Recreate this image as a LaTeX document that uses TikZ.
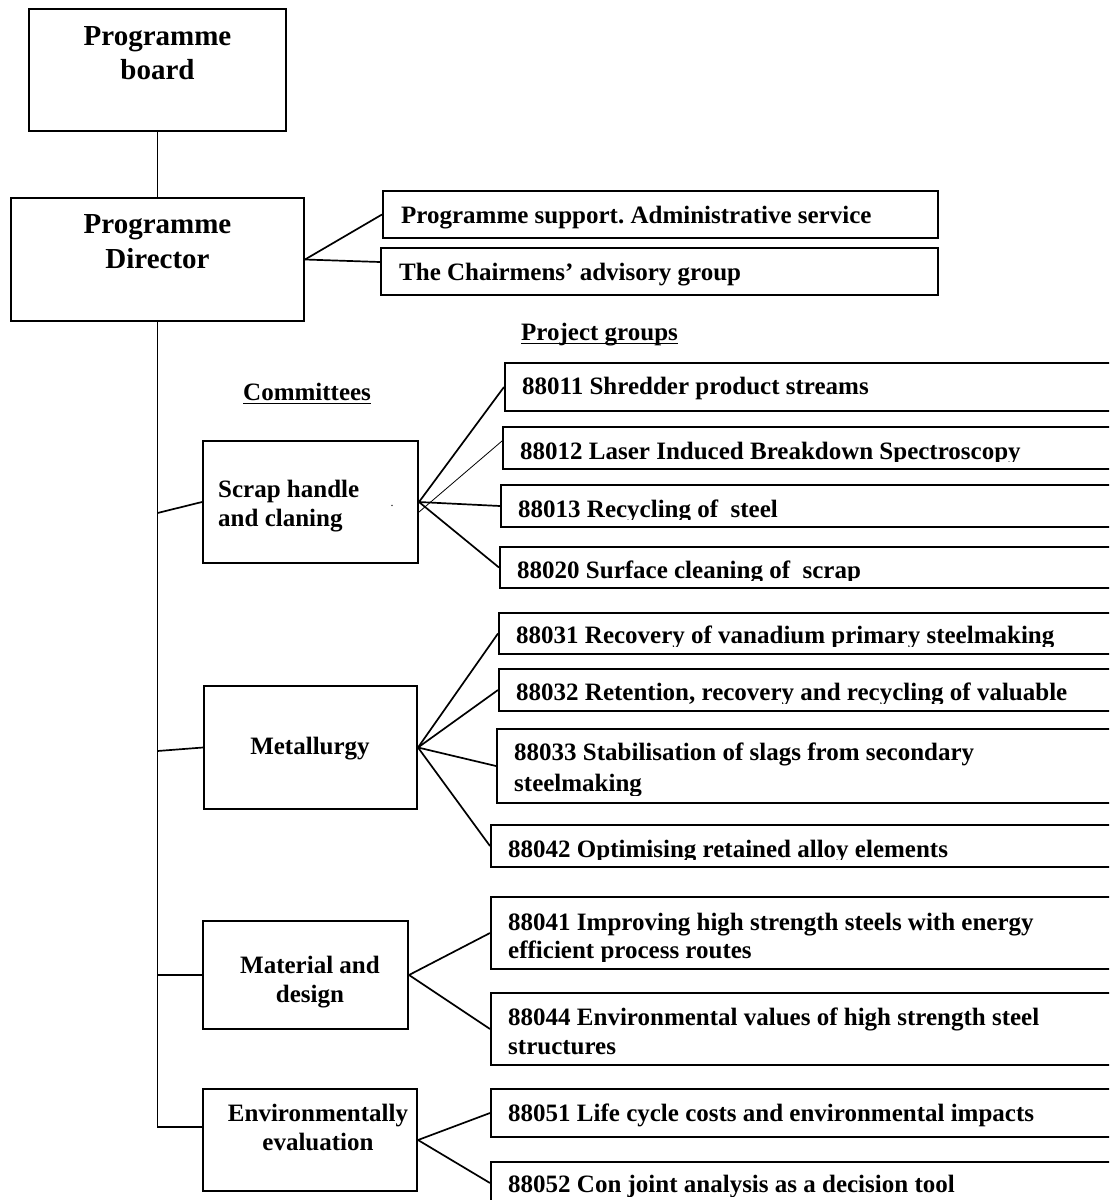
\documentclass[tikz,border=0pt]{standalone}
\usepackage{fontspec}
\setmainfont{Liberation Serif}
\usetikzlibrary{fit}
\frenchspacing
\tikzset{
  box/.style={draw, line width=2pt, inner sep=0pt},
  conn/.style={line width=1.7pt},
  thinconn/.style={line width=0.8pt},
  txt/.style={inner sep=0pt, font=\frenchspacing\fontsize{25}{29}\selectfont\bfseries},
  bigtxt/.style={inner sep=0pt, font=\fontsize{29}{34}\selectfont\bfseries},
  uline/.style={line width=1.7pt}
}
\begin{document}
\begin{tikzpicture}[x=1pt,y=-1pt]
\clip (0,0) rectangle (1109,1200);
\fill[white] (0,0) rectangle (1109,1200);
% top boxes
\node[box, fit={(29,9) (286,131)}] (board) {};
\node[box, fit={(11,198) (304,321)}] (dir) {};
\node[box, fit={(383,191) (938,238)}] (sup) {};
\node[box, fit={(381,248) (938,295)}] (chair) {};
% committees
\node[box, fit={(203,441) (418,563)}] (scrap) {};
\node[box, fit={(204,686) (417,809)}] (metal) {};
\node[box, fit={(203,921) (408,1029)}] (mat) {};
\node[box, fit={(203,1089) (417,1191)}] (env) {};
% project groups
\node[box, fit={(505,363) (1120,411)}] (p11) {};
\node[box, fit={(503,427) (1120,469)}] (p12) {};
\node[box, fit={(501,485) (1120,527)}] (p13) {};
\node[box, fit={(500,547) (1120,588)}] (p20) {};
\node[box, fit={(499,613) (1120,654)}] (p31) {};
\node[box, fit={(499,669) (1120,711)}] (p32) {};
\node[box, fit={(497,729) (1120,803)}] (p33) {};
\node[box, fit={(491,825) (1120,867)}] (p42) {};
\node[box, fit={(491,897) (1120,969)}] (p41) {};
\node[box, fit={(491,993) (1120,1065)}] (p44) {};
\node[box, fit={(491,1089) (1120,1137)}] (p51) {};
\node[box, fit={(491,1162) (1120,1204)}] (p52) {};
% texts top
\node[bigtxt, anchor=base] (tb1) at (157.5,45) {Programme};
\node[bigtxt, anchor=base] (tb2) at (157.5,79) {board};
\node[bigtxt, anchor=base] (td1) at (157.5,233) {Programme};
\node[bigtxt, anchor=base] (td2) at (157.5,268) {Director};
\node[txt, anchor=base west] (tsup) at (401,223) {Programme support. Administrative service};
\node[txt, anchor=base west] (tchair) at (399,280) {The Chairmens’ advisory group};
\node[txt, anchor=base west] (tpg) at (521,340) {Project groups};
\draw[uline] ([yshift=-3.5pt]tpg.base west) -- ([yshift=-3.5pt]tpg.base east);
\node[txt, anchor=base west] (tcom) at (243,400) {Committees};
\draw[uline] ([yshift=-3.5pt]tcom.base west) -- ([yshift=-3.5pt]tcom.base east);
% committee texts
\node[txt, anchor=base west] (ts1) at (218,497) {Scrap handle};
\node[txt, anchor=base west] (ts2) at (218,526) {and claning};
\node[inner sep=0pt, font=\fontsize{12}{14}\selectfont, anchor=base] (tdot) at (392,506) {.};
\node[txt, anchor=base] (tm) at (310,754) {Metallurgy};
\node[txt, anchor=base] (tma1) at (310,973) {Material and};
\node[txt, anchor=base] (tma2) at (310,1002) {design};
\node[txt, anchor=base] (te1) at (318,1121) {Environmentally};
\node[txt, anchor=base] (te2) at (318,1150) {evaluation};
% project texts (clipped inside boxes as in the original)
\begin{scope}\clip (p11.north west) rectangle ([yshift=9pt]p11.south east);
\node[txt, anchor=base west] (t11) at (522,394) {88011 Shredder product streams};\end{scope}
\begin{scope}\clip (p12.north west) rectangle ([yshift=9pt]p12.south east);
\node[txt, anchor=base west] (t12) at (520,459) {88012 Laser Induced Breakdown Spectroscopy};\end{scope}
\begin{scope}\clip (p13.north west) rectangle ([yshift=9pt]p13.south east);
\node[txt, anchor=base west] (t13) at (518,517) {88013 Recycling of~~steel};\end{scope}
\begin{scope}\clip (p20.north west) rectangle ([yshift=9pt]p20.south east);
\node[txt, anchor=base west] (t20) at (517,578) {88020 Surface cleaning of~~scrap};\end{scope}
\begin{scope}\clip (p31.north west) rectangle ([yshift=9pt]p31.south east);
\node[txt, anchor=base west] (t31) at (516,643) {88031 Recovery of vanadium primary steelmaking};\end{scope}
\begin{scope}\clip (p32.north west) rectangle ([yshift=9pt]p32.south east);
\node[txt, anchor=base west] (t32) at (516,700) {88032 Retention, recovery and recycling of valuable};\end{scope}
\begin{scope}\clip (p33.north west) rectangle ([yshift=9pt]p33.south east);
\node[txt, anchor=base west] (t33a) at (514,760) {88033 Stabilisation of slags from secondary};
\node[txt, anchor=base west] (t33b) at (514,791) {steelmaking};\end{scope}
\begin{scope}\clip (p42.north west) rectangle ([yshift=9pt]p42.south east);
\node[txt, anchor=base west] (t42) at (508,857) {88042 Optimising retained alloy elements};\end{scope}
\begin{scope}\clip (p41.north west) rectangle ([yshift=9pt]p41.south east);
\node[txt, anchor=base west] (t41a) at (508,930) {88041 Improving high strength steels with energy};
\node[txt, anchor=base west] (t41b) at (508,958) {efficient process routes};\end{scope}
\begin{scope}\clip (p44.north west) rectangle ([yshift=9pt]p44.south east);
\node[txt, anchor=base west] (t44a) at (508,1025) {88044 Environmental values of high strength steel};
\node[txt, anchor=base west] (t44b) at (508,1054) {structures};\end{scope}
\begin{scope}\clip (p51.north west) rectangle ([yshift=9pt]p51.south east);
\node[txt, anchor=base west] (t51) at (508,1121) {88051 Life cycle costs and environmental impacts};\end{scope}
\begin{scope}\clip (p52.north west) rectangle ([yshift=9pt]p52.south east);
\node[txt, anchor=base west] (t52) at (508,1192) {88052 Con joint analysis as a decision tool};\end{scope}
% connectors
\draw[conn] (board.south) -- (dir.north);
\draw[conn] (dir.east) -- (sup.west);
\draw[conn] (dir.east) -- ([yshift=9.5pt]chair.west);
\draw[conn] (dir.south) |- ([yshift=13pt]env.west);
\coordinate (j1) at (157.5,513);
\coordinate (j2) at (157.5,751);
\draw[conn] (j1) -- (scrap.west);
\draw[conn] (j2) -- (metal.west);
\draw[conn] (mat.west -| dir.south) -- (mat.west);
\draw[conn] (scrap.east) -- (p11.west);
\draw[thinconn] ([yshift=-10pt]scrap.east) -- ([yshift=7pt]p12.west);
\draw[conn] (scrap.east) -- (p13.west);
\draw[conn] (scrap.east) -- (p20.west);
\draw[conn] (metal.east) -- (p31.west);
\draw[conn] (metal.east) -- (p32.west);
\draw[conn] (metal.east) -- (p33.west);
\draw[conn] (metal.east) -- (p42.west);
\draw[conn] (mat.east) -- (p41.west);
\draw[conn] (mat.east) -- (p44.west);
\draw[conn] (env.east) -- (p51.west);
\draw[conn] (env.east) -- (p52.west);
\end{tikzpicture}
\end{document}
